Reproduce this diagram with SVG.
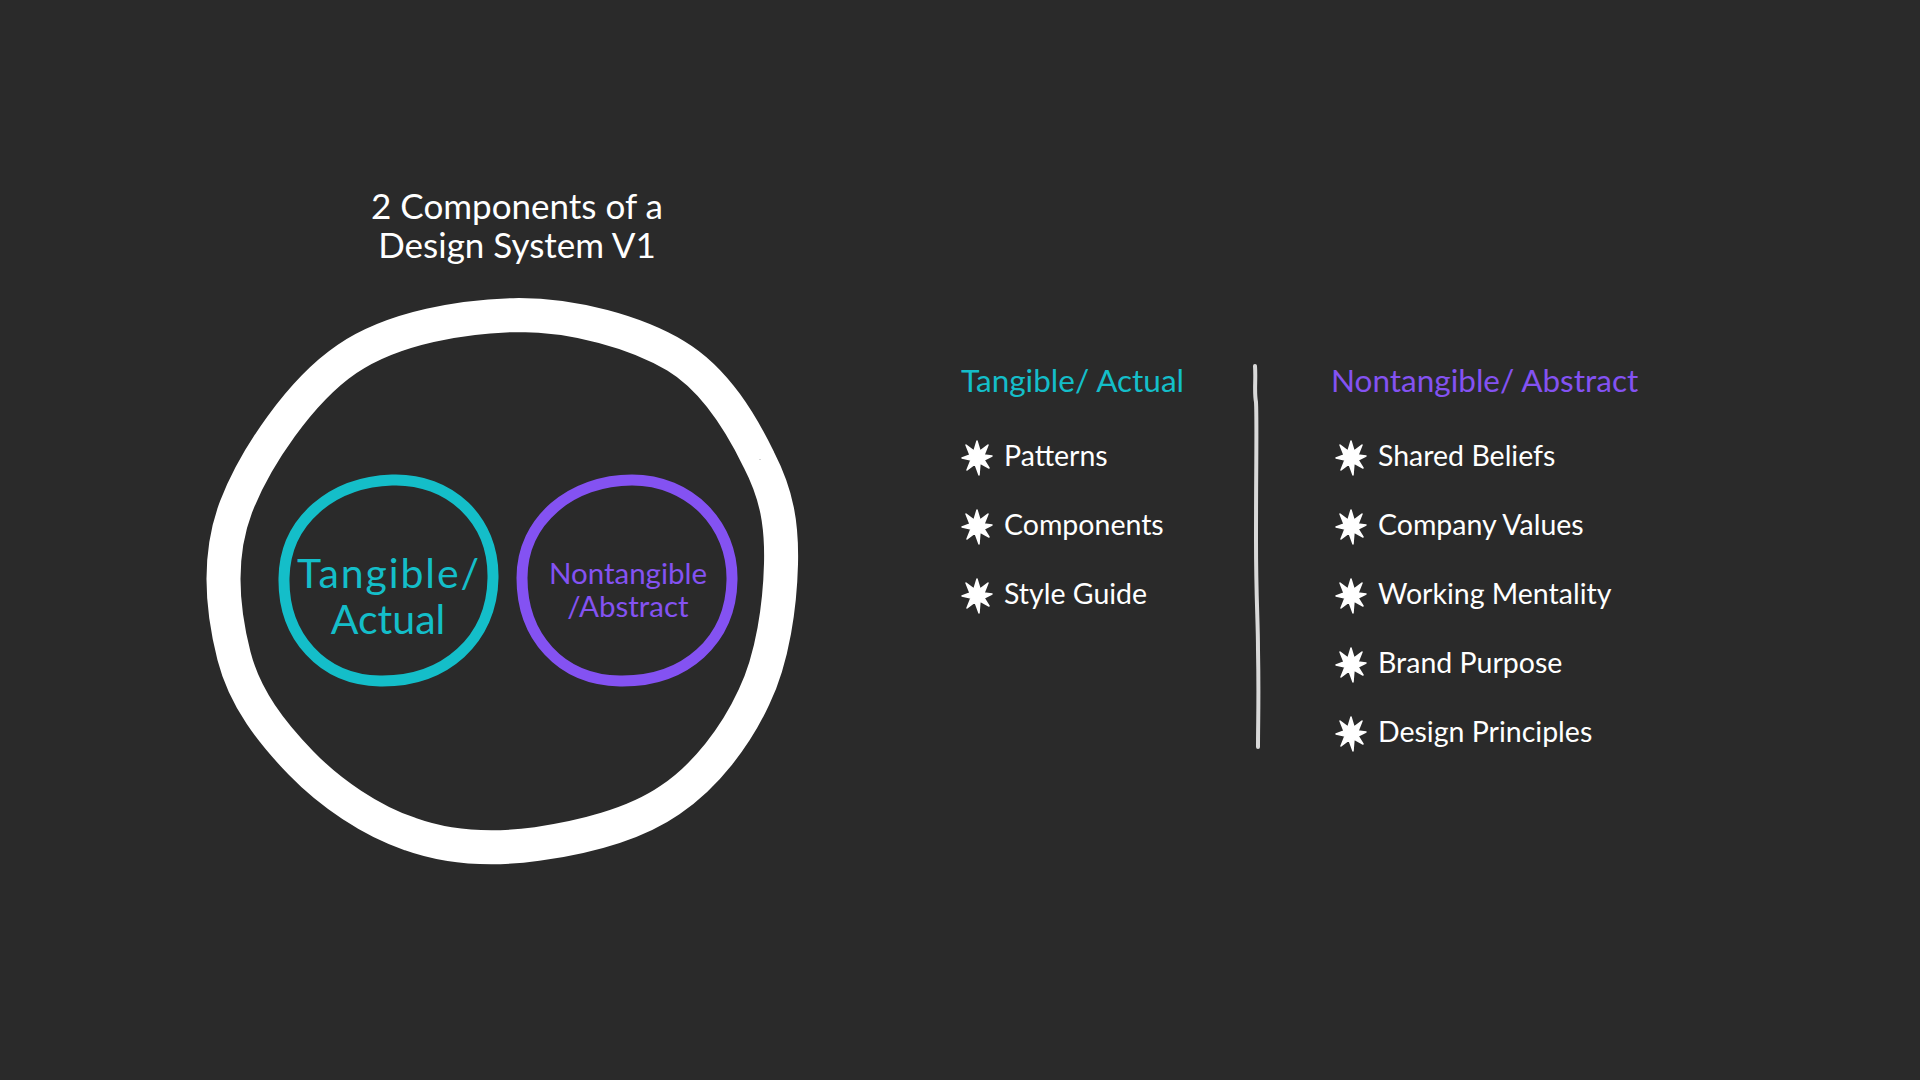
<svg xmlns="http://www.w3.org/2000/svg" width="1920" height="1080" viewBox="0 0 1920 1080">
<defs>
<style>
text{font-family:Lato,"Noto Sans","Liberation Sans",sans-serif;}
.title{fill:#ffffff;font-size:35px;text-anchor:middle;}
.cy{fill:#14bec9;}
.pu{fill:#8452f2;}
.hd{font-size:31.5px;}
.item{fill:#ffffff;font-size:28.5px;}
.ring{fill:none;stroke-linecap:round;stroke-linejoin:round;}
</style>
<path id="star" d="M0,-16 L3,-6 L11,-12 L7,-2 L15,-1 L7,3 L12,11 L3,6 L2,18 L-2,7 L-10,13 L-6,3 L-15,1 L-7,-2 L-11,-12 L-3,-6 Z" fill="#ffffff" stroke="#ffffff" stroke-width="1.5" stroke-linejoin="round"/>
</defs>
<rect x="0" y="0" width="1920" height="1080" fill="#2a2a2a"/>

<g id="title">
<text class="title" x="517" y="219">2 Components of a</text>
<text class="title" x="517" y="258">Design System V1</text>
</g>

<g id="outer-circle">
<path class="ring" stroke="#ffffff" stroke-width="34" d="M519,315 C574,315 636,332 676,356 C716,380 742,425 759,460 C777,495 782,525 781,564 C780,604 773,658 754,697 C736,736 706,776 670,800 C634,825 580,838 537,844 C494,850 449,848 410,834 C371,821 330,793 301,763 C272,733 245,699 234,656 C223,613 217,557 236,507 C255,458 300,391 347,359 C394,327 464,316 519,315 Z"/>
</g>

<g id="tangible-circle">
<path class="ring" stroke="#14bec9" stroke-width="11" d="M392,480 C450,478 494,520 493,578 C492,640 445,682 380,681 C322,680 283,636 284,578 C285,520 333,482 392,480 Z"/>
<text class="cy" x="388" y="588" font-size="41" text-anchor="middle" textLength="182">Tangible/</text>
<text class="cy" x="388" y="634" font-size="41" text-anchor="middle">Actual</text>
</g>

<g id="nontangible-circle">
<path class="ring" stroke="#8452f2" stroke-width="11" d="M632,480 C690,480 733,525 732,580 C731,640 686,682 620,681 C560,680 522,636 522,578 C522,520 572,480 632,480 Z"/>
<text class="pu" x="628" y="584" font-size="29.5" text-anchor="middle">Nontangible</text>
<text class="pu" x="628" y="617" font-size="29.5" text-anchor="middle">/Abstract</text>
</g>

<g id="connectors">
<path d="M1255,366 C1256,380 1254,392 1256,402 C1257,420 1256,460 1256,540 C1256,600 1258,620 1258,650 C1259,700 1258,720 1258,747" fill="none" stroke="#d9d9d9" stroke-width="4" stroke-linecap="round"/>
</g>

<g id="tangible-list">
<text class="cy hd" x="961" y="392">Tangible/ Actual</text>
<use href="#star" x="977" y="457"/>
<text class="item" x="1004" y="466">Patterns</text>
<use href="#star" x="977" y="526"/>
<text class="item" x="1004" y="535">Components</text>
<use href="#star" x="977" y="595"/>
<text class="item" x="1004" y="604">Style Guide</text>
</g>

<g id="nontangible-list">
<text class="pu hd" x="1331" y="392">Nontangible/ Abstract</text>
<use href="#star" x="1351" y="457"/>
<text class="item" x="1378" y="466">Shared Beliefs</text>
<use href="#star" x="1351" y="526"/>
<text class="item" x="1378" y="535">Company Values</text>
<use href="#star" x="1351" y="595"/>
<text class="item" x="1378" y="604">Working Mentality</text>
<use href="#star" x="1351" y="664"/>
<text class="item" x="1378" y="673">Brand Purpose</text>
<use href="#star" x="1351" y="733"/>
<text class="item" x="1378" y="742">Design Principles</text>
</g>
</svg>
